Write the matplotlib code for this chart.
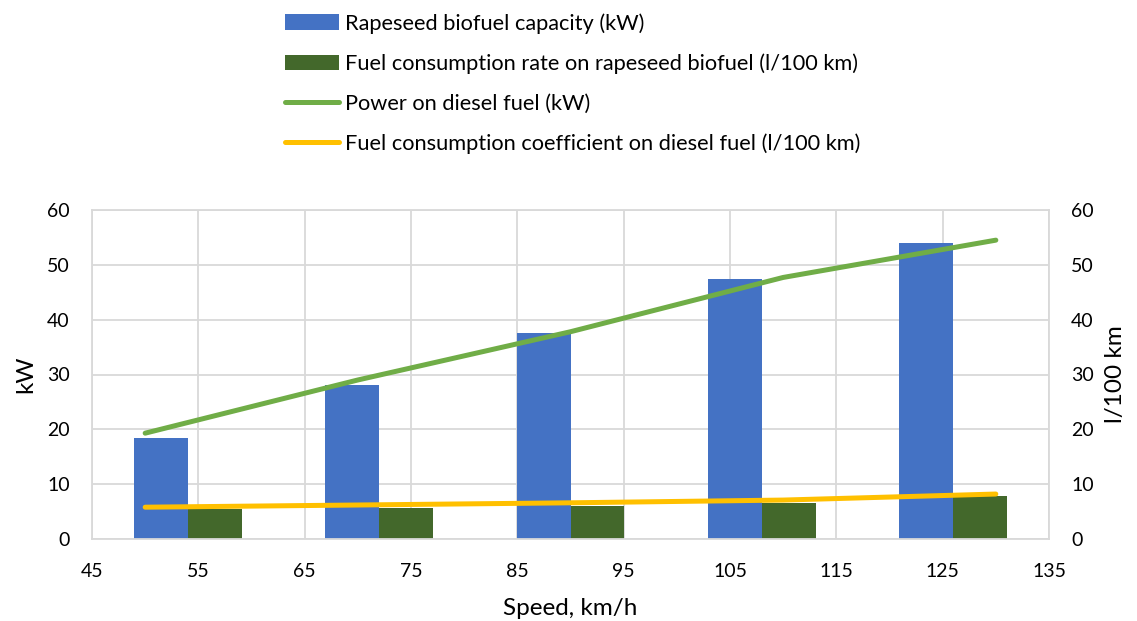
#!/usr/bin/env python3

import matplotlib.pyplot as plt
import numpy as np

plt.rcParams["font.family"] = ["Lato", "DejaVu Sans"]

# category bars (one pair per speed group)
bar_groups = ["50", "70", "90", "110", "130"]
rapeseed_capacity_kw = [18.5, 28.1, 37.5, 47.4, 53.9]
rapeseed_consumption = [5.4, 5.6, 6.0, 6.6, 7.8]

# diesel lines on the speed axis
speed_kmh = [50, 70, 90, 110, 130]
diesel_power_kw = [19.3, 29.0, 37.8, 47.7, 54.5]
diesel_consumption = [5.8, 6.2, 6.6, 7.1, 8.2]

x_ticks = [45, 55, 65, 75, 85, 95, 105, 115, 125, 135]
y_ticks = [0, 10, 20, 30, 40, 50, 60]

BLUE = "#4472C4"
DARK_GREEN = "#43682B"
LIGHT_GREEN = "#70AD47"
YELLOW = "#FFC000"
GRID = "#D9D9D9"


def main() -> None:
    fig = plt.figure(figsize=(11.37, 6.21), dpi=100)
    ax = fig.add_axes([92 / 1137, 1 - 539 / 621, (1049 - 92) / 1137, (539 - 210) / 621])

    x_min, x_max = x_ticks[0], x_ticks[-1]
    ax.set_xlim(x_min, x_max)
    ax.set_ylim(0, 60)

    # bars sit on a category layout spread over the speed axis
    n = len(bar_groups)
    cat_w = (x_max - x_min) / n
    gap_width = 1.55
    bar_w = cat_w / (2 + gap_width)
    centers = x_min + (np.arange(n) + 0.5) * cat_w
    b1 = ax.bar(centers - bar_w / 2, rapeseed_capacity_kw, width=bar_w, color=BLUE,
                zorder=2, label="Rapeseed biofuel capacity (kW)")
    b2 = ax.bar(centers + bar_w / 2, rapeseed_consumption, width=bar_w, color=DARK_GREEN,
                zorder=2, label="Fuel consumption rate on rapeseed biofuel (l/100 km)")

    l1, = ax.plot(speed_kmh, diesel_power_kw, color=LIGHT_GREEN, lw=3.6,
                  solid_capstyle="round", solid_joinstyle="round", zorder=3,
                  label="Power on diesel fuel (kW)")
    l2, = ax.plot(speed_kmh, diesel_consumption, color=YELLOW, lw=3.6,
                  solid_capstyle="round", solid_joinstyle="round", zorder=3,
                  label="Fuel consumption coefficient on diesel fuel (l/100 km)")

    ax.set_xticks(x_ticks)
    ax.set_yticks(y_ticks)
    ax.set_axisbelow(True)
    ax.grid(True, color=GRID, lw=1.3)
    for side in ["top", "right", "left", "bottom"]:
        ax.spines[side].set_color(GRID)
        ax.spines[side].set_linewidth(1.3)
    ax.tick_params(length=0, labelsize=14, colors="black")
    ax.tick_params(axis="x", pad=17)
    ax.tick_params(axis="y", pad=16)
    ax.set_xlabel("Speed, km/h", fontsize=17.5, labelpad=13)
    ax.set_ylabel("kW", fontsize=17.5, labelpad=8)

    axr = ax.twinx()
    axr.set_ylim(0, 60)
    axr.set_yticks(y_ticks)
    axr.tick_params(length=0, labelsize=14, pad=16)
    for side in ["top", "right", "left", "bottom"]:
        axr.spines[side].set_visible(False)
    axr.set_ylabel("l/100 km", fontsize=17.5, labelpad=8)

    fig.legend(handles=[b1, b2, l1, l2], loc="upper left",
               bbox_to_anchor=(272 / 1137, 1.0), frameon=False, fontsize=15.7,
               handlelength=2.45, handletextpad=0.28, labelspacing=0.9,
               borderaxespad=0.2)

    fig.savefig("out.png", dpi=100)
    plt.close(fig)


if __name__ == "__main__":
    main()
